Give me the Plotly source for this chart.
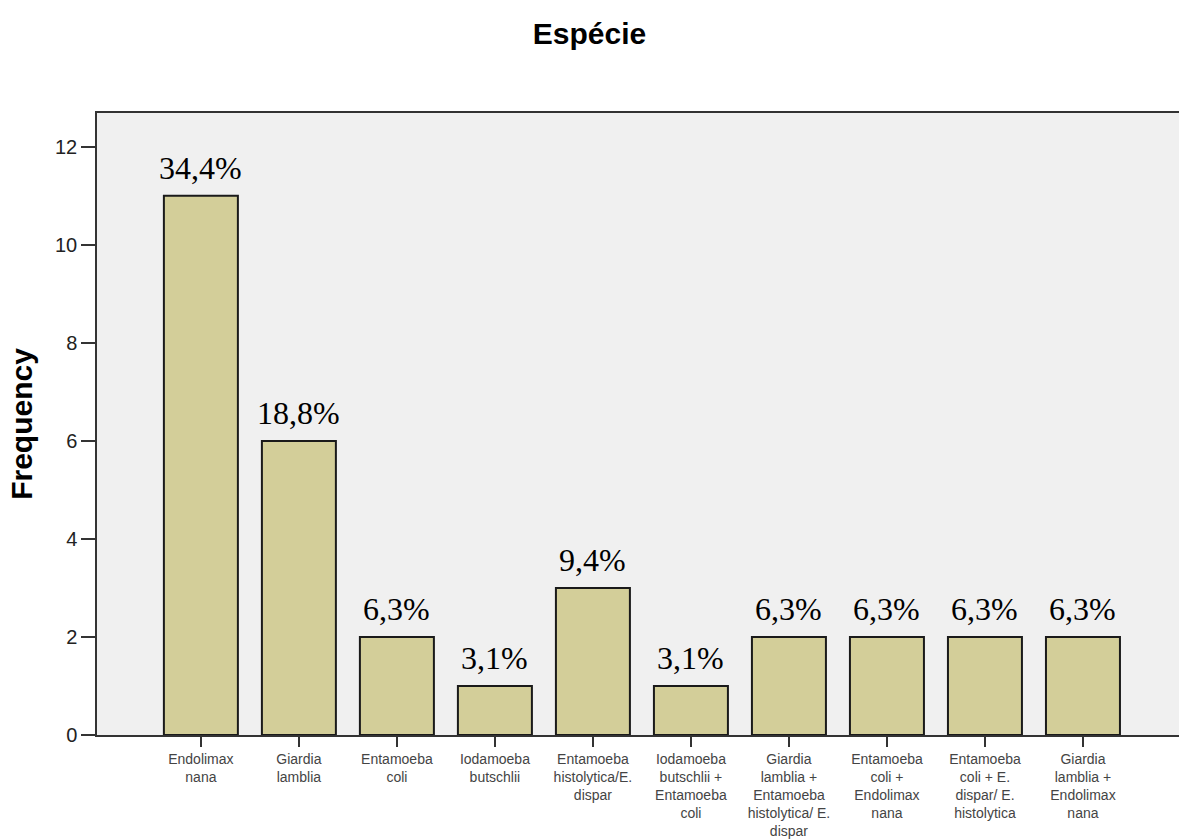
import plotly.graph_objects as go

categories = [
    "Endolimax<br>nana",
    "Giardia<br>lamblia",
    "Entamoeba<br>coli",
    "Iodamoeba<br>butschlii",
    "Entamoeba<br>histolytica/E.<br>dispar",
    "Iodamoeba<br>butschlii +<br>Entamoeba<br>coli",
    "Giardia<br>lamblia +<br>Entamoeba<br>histolytica/ E.<br>dispar",
    "Entamoeba<br>coli +<br>Endolimax<br>nana",
    "Entamoeba<br>coli + E.<br>dispar/ E.<br>histolytica",
    "Giardia<br>lamblia +<br>Endolimax<br>nana",
]
frequencies = [11, 6, 2, 1, 3, 1, 2, 2, 2, 2]
percent_labels = ["34,4%", "18,8%", "6,3%", "3,1%", "9,4%", "3,1%", "6,3%", "6,3%", "6,3%", "6,3%"]
y_ticks = [0, 2, 4, 6, 8, 10, 12]

xs = list(range(len(categories)))

fig = go.Figure()
fig.add_trace(go.Bar(
    x=xs, y=frequencies, width=0.755,
    marker=dict(color="#d3ce99", line=dict(color="#1a1a1a", width=2)),
    hoverinfo="skip",
))

for x, y, t in zip(xs, frequencies, percent_labels):
    fig.add_annotation(x=x, y=y, text=t, showarrow=False, yanchor="bottom", yshift=8,
                       font=dict(family="Liberation Serif", size=32, color="#000"))

fig.update_layout(
    width=1179, height=839,
    margin=dict(l=97, r=0, t=113, b=104),
    paper_bgcolor="white", plot_bgcolor="#f0f0f0",
    showlegend=False,
    title=dict(text="<b>Espécie</b>", x=0.5, xanchor="center", y=1 - 33 / 839, yanchor="middle",
               yref="container", font=dict(family="Liberation Sans", size=30, color="#000")),
)
fig.update_xaxes(
    range=[-1.06, 9.98], tickmode="array", tickvals=xs, ticktext=categories,
    tickangle=0, ticks="outside", ticklen=10, tickwidth=2, tickcolor="#333",
    showline=True, linecolor="#333", linewidth=1.5, mirror=True,
    showgrid=False, zeroline=False,
    tickfont=dict(family="Liberation Sans", size=14, color="#444"),
)
fig.update_yaxes(
    range=[0, 12.69], tickmode="array", tickvals=y_ticks,
    ticks="outside", ticklen=14, tickwidth=1.5, tickcolor="#333",
    showline=True, linecolor="#333", linewidth=1.5, mirror=False,
    showgrid=False, zeroline=False,
    tickfont=dict(family="Liberation Sans", size=20, color="#222"),
    title=dict(text="<b>Frequency</b>", standoff=14,
               font=dict(family="Liberation Sans", size=30, color="#000")),
)

fig.write_html("out.html", config={"displayModeBar": False},
               post_script="document.body.style.margin='0';")
